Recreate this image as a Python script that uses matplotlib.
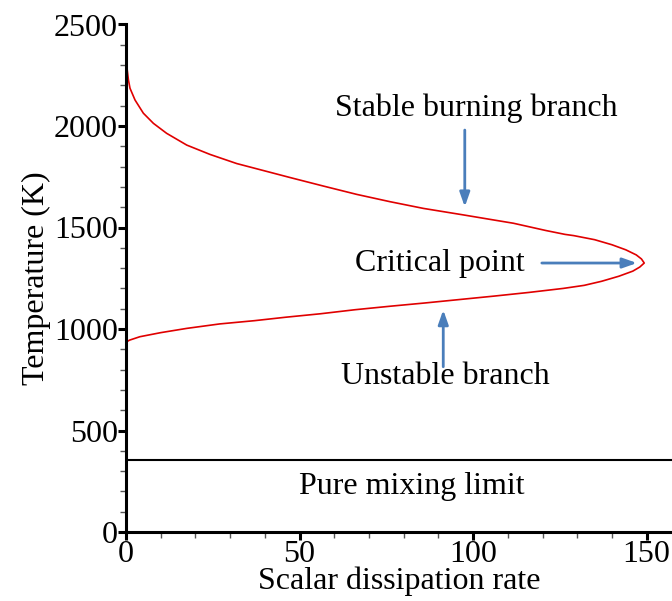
import matplotlib
matplotlib.use("Agg")
import matplotlib.pyplot as plt
from matplotlib.ticker import MultipleLocator

# S-curve of maximum temperature vs. scalar dissipation rate
upper_chi = [0.3, 0.7, 1.15, 2.6, 5.0, 7.9, 11.7, 17.5, 24.2, 31.9, 41.5, 47.3,
             56.9, 66.5, 76.1, 85.7, 97.2, 104.9, 111.6, 121.0, 126.5, 129.0,
             135.0, 140.0, 144.0, 147.0, 148.5, 149.3]
upper_T = [2284, 2227, 2186, 2128, 2063, 2013, 1964, 1906, 1860, 1815, 1772, 1746,
           1704, 1663, 1627, 1594, 1562, 1540, 1521, 1485, 1466, 1460,
           1440, 1415, 1390, 1365, 1345, 1325]
lower_chi = [149.3, 148.0, 146.0, 142.0, 137.0, 132.0, 126.0, 116.0, 106.0, 96.0,
             86.0, 76.0, 66.0, 56.0, 46.0, 37.0, 27.0, 17.5, 10.0, 4.0, 1.0, 0.0]
lower_T = [1325, 1305, 1285, 1260, 1235, 1215, 1200, 1180, 1162, 1145,
           1128, 1112, 1095, 1075, 1058, 1041, 1025, 1003, 982, 962, 945, 935]
mixing_T = 353

x_ticks = [0, 50, 100, 150]
y_ticks = [0, 500, 1000, 1500, 2000, 2500]

plt.rcParams["font.family"] = ["Liberation Serif", "DejaVu Serif"]

FS = 23

fig = plt.figure(figsize=(6.72, 6.01), dpi=100)
ax = fig.add_axes([126 / 672, (601 - 532) / 601, (672 - 126) / 672, (532 - 24.5) / 601])

ax.plot(upper_chi + lower_chi, upper_T + lower_T, color="#e00000", lw=1.2)
ax.axhline(mixing_T, color="black", lw=1.5)

ax.set_xlim(0, 157.3)
ax.set_ylim(0, 2500)
ax.set_xticks(x_ticks)
ax.set_yticks(y_ticks)
ax.xaxis.set_minor_locator(MultipleLocator(10))
ax.yaxis.set_minor_locator(MultipleLocator(100))

for s in ("top", "right"):
    ax.spines[s].set_visible(False)
for s in ("left", "bottom"):
    ax.spines[s].set_linewidth(2.2)

ax.tick_params(which="major", length=6, width=2.2, labelsize=FS, pad=0, direction="out")
ax.tick_params(which="minor", length=4.5, width=1.0, color="#555555", direction="out")

ax.set_xlabel("Scalar dissipation rate", fontsize=FS, labelpad=-2)
ax.set_ylabel("Temperature (K)", fontsize=FS, labelpad=2)

arrow_kw = dict(arrowstyle="-|>,head_length=0.85,head_width=0.3", color="#4a7ebb", lw=2.0,
                shrinkA=0, shrinkB=0)

ax.text(100.9, 2089, "Stable burning branch", fontsize=FS, ha="center", va="center")
ax.annotate("", xy=(97.6, 1602), xytext=(97.6, 1980), arrowprops=arrow_kw)

ax.text(90.5, 1322, "Critical point", fontsize=FS, ha="center", va="center")
ax.annotate("", xy=(147.2, 1325), xytext=(119.8, 1325), arrowprops=arrow_kw)

ax.text(92.0, 764, "Unstable branch", fontsize=FS, ha="center", va="center")
ax.annotate("", xy=(91.4, 1094), xytext=(91.4, 814), arrowprops=arrow_kw)

ax.text(82.4, 222, "Pure mixing limit", fontsize=FS, ha="center", va="center")

fig.savefig("out.png", dpi=100)
